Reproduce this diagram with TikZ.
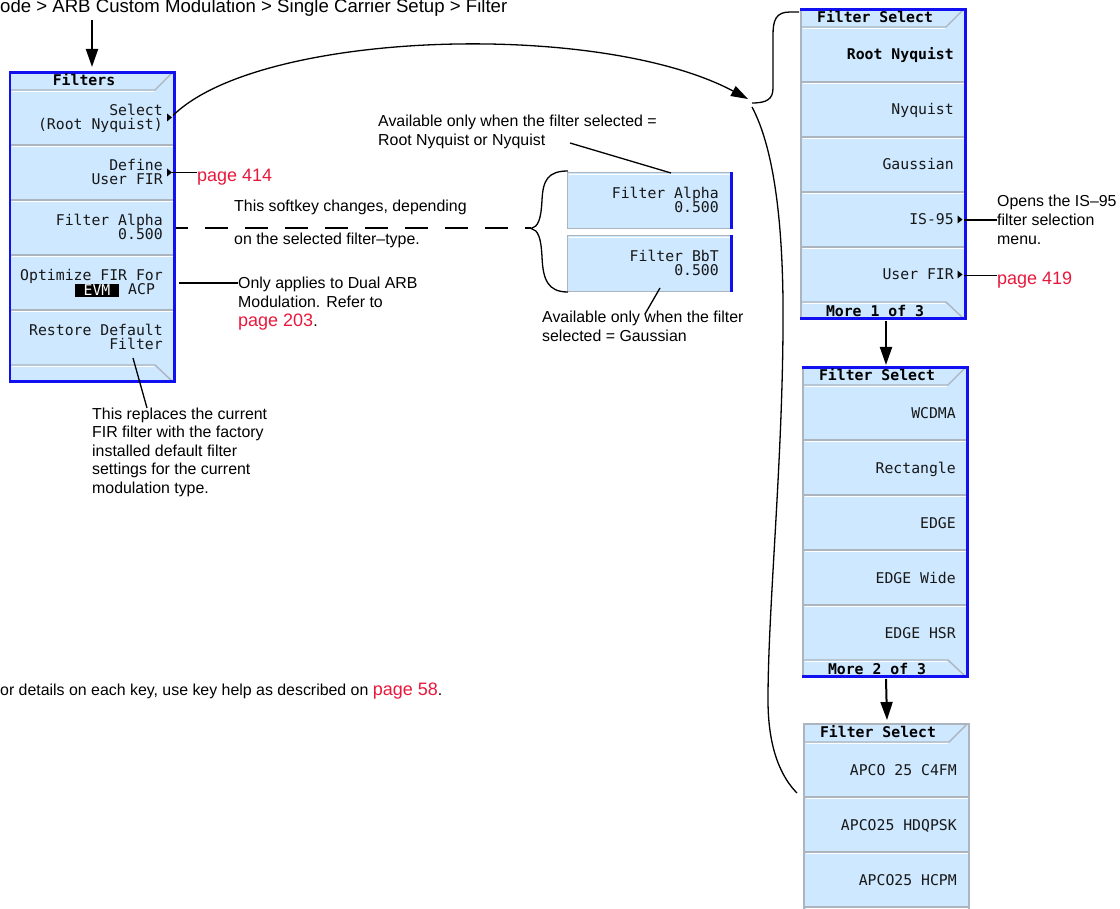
\documentclass[tikz,border=0pt]{standalone}
\usepackage{fontspec}
\setmainfont{Liberation Sans}
\newfontfamily\keyfont{DejaVu Sans Mono}
\usetikzlibrary{arrows.meta}
\definecolor{keyblue}{RGB}{205,232,255}
\definecolor{rimblue}{RGB}{16,16,240}
\definecolor{sepgray}{RGB}{172,180,190}
\definecolor{linkred}{RGB}{232,24,60}
\definecolor{keyink}{RGB}{24,24,24}
\newcommand{\linkfnt}{\fontsize{18}{20}\selectfont}
\begin{document}
\begin{tikzpicture}[x=1pt,y=-1pt,
  body/.style={font=\fontsize{15.9}{18.6}\selectfont, inner sep=0pt, align=left, anchor=base west, text=black},
  crumbtxt/.style={font=\fontsize{18.6}{20}\selectfont, inner sep=0pt, anchor=base west, text=black},
  linktxt/.style={font=\linkfnt, inner sep=0pt, anchor=base west, text=linkred},
  keylbl/.style={font=\keyfont\fontsize{14.8}{14}\selectfont, inner sep=0pt, anchor=base east, text=keyink},
  keybold/.style={keylbl, font=\keyfont\bfseries\fontsize{14.8}{14}\selectfont, text=black},
  keyttl/.style={font=\keyfont\bfseries\fontsize{14.8}{14}\selectfont, inner sep=0pt, anchor=base, text=black},
  sepline/.style={sepgray, line width=1.4pt},
  hiline/.style={white, line width=1pt},
  conn/.style={line width=1.3pt, black},
  lead/.style={line width=1.6pt, black},
  arr/.style={line width=2pt, black, -{Triangle[length=18pt,width=12pt]}},
  arcarr/.style={line width=1.3pt, black, -{Triangle[length=17pt,width=11pt]}},
  dashline/.style={line width=2pt, black, dash pattern=on 23pt off 17pt, dash phase=11pt},
  keymark/.style={fill=black}
]
\useasboundingbox (0,0) rectangle (1120,909);

% ---------- breadcrumb ----------
\node[crumbtxt] (crumb) at (0,12.5) {ode > ARB Custom Modulation > Single Carrier Setup > Filter};
\coordinate (crumbFoot) at (92,20);
\coordinate (lmTop) at (92,67);
\draw[arr] (crumbFoot) -- (lmTop);

% ---------- left menu: Filters ----------
\begin{scope}[shift={(9,71)}]
  \fill[keyblue] (0,0) rectangle (167,312);
  \draw[sepline] (1,19) -- (146,19) -- (163,2);
  \draw[hiline] (2.5,20.5) -- (145,20.5);
  \foreach \k in {1,2,3,4} {
    \draw[sepline] (2,19+55*\k) -- (164,19+55*\k);
    \draw[hiline] (2.5,20.5+55*\k) -- (164,20.5+55*\k);
  }
  \draw[sepline] (2,294) -- (146,294) -- (163,310);
  \draw[hiline] (2.5,295.5) -- (145,295.5);
  \draw[rimblue, line width=2.5pt] (1.2,1.5) -- (165.5,1.5) -- (165.5,310.5) -- (1.2,310.5) -- cycle;
  \node[keyttl] (lmTitle) at (75,14.5) {Filters};
  \node[keylbl] (lmK1a) at (154,45) {Select};
  \node[keylbl] (lmK1b) at (154,59) {(Root Nyquist)};
  \fill[keymark] (158,42.5) -- (163,46.5) -- (158,50.5) -- cycle;
  \coordinate (selMark) at (164,44.5);
  \node[keylbl] (lmK2a) at (154,100) {Define};
  \node[keylbl] (lmK2b) at (154,114) {User FIR};
  \fill[keymark] (158,97.5) -- (163,101.5) -- (158,105.5) -- cycle;
  \coordinate (defMark) at (163,101.5);
  \node[keylbl] (lmK3a) at (154,155) {Filter Alpha};
  \node[keylbl] (lmK3b) at (154,169) {0.500};
  \coordinate (alphaR) at (167,157.5);
  \node[keylbl] (lmK4a) at (154,210) {Optimize FIR For};
  \node[fill=black, text=white, inner sep=0pt, minimum width=44pt, minimum height=13pt,
        font=\keyfont\fontsize{14.8}{14}\selectfont] (evm) at (88,219.5) {EVM};
  \node[keylbl, anchor=base west] (lmK4c) at (119,224) {ACP};
  \coordinate (optR) at (170,212);
  \node[keylbl] (lmK5a) at (154,265) {Restore Default};
  \node[keylbl] (lmK5b) at (154,279) {Filter};
  \coordinate (restoreLn) at (124,287);
\end{scope}

% ---------- left annotations ----------
\node[linktxt] (p414) at (197,182) {page 414};
\draw[lead] (defMark) -- (defMark -| p414.west);

\node[body] (softTxt1) at (234,212) {This softkey changes, depending};
\node[body] (softTxt2) at (234,245) {on the selected filter–type.};

\node[body] (onlyTxt) at (238,307.6) {Only applies to Dual ARB\\Modulation. Refer to};
\node[body] (p203) at (238,327) {{\color{linkred}\linkfnt page 203}.};
\coordinate (onlyLn) at (238,283);
\draw[lead] (optR) -- (onlyLn);

\node[body] (replTxt) at (92,493.4) {This replaces the current\\FIR filter with the factory\\installed default filter\\settings for the current\\modulation type.};
\coordinate (replLn) at (147,408);
\draw[conn] (restoreLn) -- (replLn);

\node[body] (noteTxt) at (0,695) {or details on each key, use key help as described on {\color{linkred}\linkfnt page 58}.};

% ---------- popups ----------
\fill[keyblue] (567,172) rectangle (733,229);
\draw[sepgray, line width=1.2pt] (731,172.5) -- (567.6,172.5) -- (567.6,228.5) -- (731,228.5);
\draw[hiline] (569,174.2) -- (730,174.2);
\draw[rimblue, line width=3pt] (731.5,172) -- (731.5,229.5);
\node[keylbl] (popA1) at (719,199) {Filter Alpha};
\node[keylbl] (popA2) at (719,213) {0.500};

\fill[keyblue] (567,235) rectangle (733,292);
\draw[sepgray, line width=1.2pt] (731,235.5) -- (567.6,235.5) -- (567.6,291.5) -- (731,291.5);
\draw[hiline] (569,237.2) -- (730,237.2);
\draw[rimblue, line width=3pt] (731.5,235) -- (731.5,292.5);
\node[keylbl] (popB1) at (719,262) {Filter BbT};
\node[keylbl] (popB2) at (719,276) {0.500};

\node[body] (availTxt) at (378,145.6) {Available only when the filter selected =\\Root Nyquist or Nyquist};
\coordinate (availLn) at (570,143);
\coordinate (popATop) at (671,173);
\draw[conn] (availLn) -- (popATop);

\node[body] (gaussTxt) at (542,341.6) {Available only when the filter\\selected = Gaussian};
\coordinate (popBBot) at (660,288);
\coordinate (gaussLn) at (645,314);
\draw[conn] (popBBot) -- (gaussLn);

\coordinate (brTop) at (568,171);
\coordinate (brTip) at (531,228.5);
\coordinate (brBot) at (568,292);
\draw[dashline] (alphaR) -- (brTip);
\draw[conn] (brTop) .. controls (548,171) and (543,180) .. (542,200)
  .. controls (541,220) and (538,227) .. (brTip)
  .. controls (538,230) and (541,237) .. (542,257)
  .. controls (543,280) and (548,292) .. (brBot);

% ---------- right menu 1 ----------
\begin{scope}[shift={(800,8)}]
  \fill[keyblue] (0,0) rectangle (167,312);
  \draw[sepline] (1,0) -- (1,312);
  \draw[sepline] (1,19) -- (146,19) -- (163,2);
  \draw[hiline] (2.5,20.5) -- (145,20.5);
  \foreach \k in {1,2,3,4} {
    \draw[sepline] (1,19+55*\k) -- (164,19+55*\k);
    \draw[hiline] (2.5,20.5+55*\k) -- (164,20.5+55*\k);
  }
  \draw[sepline] (1,294) -- (146,294) -- (163,310);
  \draw[hiline] (2.5,295.5) -- (145,295.5);
  \draw[rimblue, line width=3pt] (0,1.5) -- (165.5,1.5) -- (165.5,310.5) -- (0,310.5);
  \node[keyttl] (r1Title) at (75,14.5) {Filter Select};
  \node[keybold] (r1K1) at (154,52) {Root Nyquist};
  \node[keylbl] (r1K2) at (154,107) {Nyquist};
  \node[keylbl] (r1K3) at (154,162) {Gaussian};
  \node[keylbl] (r1K4) at (154,217) {IS-95};
  \fill[keymark] (157.5,207.5) -- (162.5,211.5) -- (157.5,215.5) -- cycle;
  \coordinate (is95Mark) at (164,212);
  \node[keylbl] (r1K5) at (154,272) {User FIR};
  \fill[keymark] (157.5,262.5) -- (162.5,266.5) -- (157.5,270.5) -- cycle;
  \coordinate (ufirMark) at (164,267.5);
  \node[keyttl] (r1More) at (75,308.5) {More 1 of 3};
  \coordinate (r1Bot) at (86,313);
  \coordinate (r1Left) at (-1,4);
\end{scope}

\node[body] (is95Txt) at (997,244.2) {Opens the IS–95\\filter selection\\menu.};
\draw[lead] (is95Mark) -- (is95Mark -| is95Txt.west);
\node[linktxt] (p419) at (997,285) {page 419};
\draw[lead] (ufirMark) -- (ufirMark -| p419.west);

% ---------- right menu 2 ----------
\begin{scope}[shift={(802,366)}]
  \fill[keyblue] (0,0) rectangle (167,312);
  \draw[sepline] (1,0) -- (1,312);
  \draw[sepline] (1,19) -- (146,19) -- (163,2);
  \draw[hiline] (2.5,20.5) -- (145,20.5);
  \foreach \k in {1,2,3,4} {
    \draw[sepline] (1,19+55*\k) -- (164,19+55*\k);
    \draw[hiline] (2.5,20.5+55*\k) -- (164,20.5+55*\k);
  }
  \draw[sepline] (1,294) -- (146,294) -- (163,310);
  \draw[hiline] (2.5,295.5) -- (145,295.5);
  \draw[rimblue, line width=3pt] (0,1.5) -- (165.5,1.5) -- (165.5,310.5) -- (0,310.5);
  \node[keyttl] (r2Title) at (75,14.5) {Filter Select};
  \node[keylbl] (r2K1) at (154,52) {WCDMA};
  \node[keylbl] (r2K2) at (154,107) {Rectangle};
  \node[keylbl] (r2K3) at (154,162) {EDGE};
  \node[keylbl] (r2K4) at (154,217) {EDGE Wide};
  \node[keylbl] (r2K5) at (154,272) {EDGE HSR};
  \node[keyttl] (r2More) at (75,308.5) {More 2 of 3};
  \coordinate (r2Top) at (84,-1);
  \coordinate (r2Bot) at (84,313);
\end{scope}

% ---------- right menu 3 ----------
\begin{scope}[shift={(803,723)}]
  \fill[keyblue] (0,0) rectangle (167,200);
  \draw[sepgray, line width=1.6pt] (0.8,200) -- (0.8,0.8) -- (166,0.8) -- (166,200);
  \draw[sepline] (1,19) -- (146,19) -- (163,2);
  \draw[hiline] (2.5,20.5) -- (145,20.5);
  \foreach \k in {1,2,3} {
    \draw[sepline] (1,19+55*\k) -- (165,19+55*\k);
    \draw[hiline] (2.5,20.5+55*\k) -- (165,20.5+55*\k);
  }
  \node[keyttl] (r3Title) at (75,14.5) {Filter Select};
  \node[keylbl] (r3K1) at (154,52) {APCO 25 C4FM};
  \node[keylbl] (r3K2) at (154,107) {APCO25 HDQPSK};
  \node[keylbl] (r3K3) at (154,162) {APCO25 HCPM};
  \coordinate (r3Top) at (84,-3);
  \coordinate (r3Left) at (-6,70);
\end{scope}

\draw[arr] (r1Bot) -- (r2Top);
\draw[arr] (r2Bot) -- (r3Top);

% ---------- long connectors ----------
\coordinate (brkEnd) at (748,99);
\draw[arcarr] (selMark) .. controls (260,30) and (600,20) .. (brkEnd);
\coordinate (hookEnd) at (752,103);
\draw[conn] (r1Left) -- (790,12) .. controls (776,12) and (773,20) .. (773,35)
  -- (773,88) .. controls (773,99) and (767,103) .. (hookEnd);
\coordinate (longTop) at (752,107);
\draw[conn] (longTop) .. controls (775,150) and (784,230) .. (783,330)
  .. controls (782,470) and (768,610) .. (768,700)
  .. controls (768,750) and (782,778) .. (r3Left);
\end{tikzpicture}
\end{document}
